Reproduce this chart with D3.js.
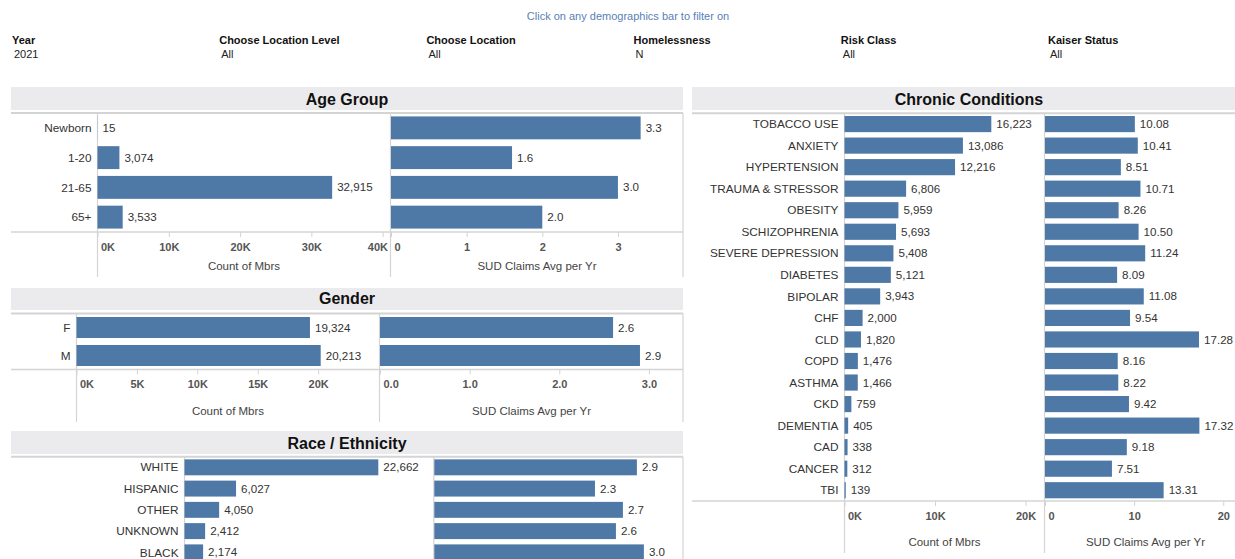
<!DOCTYPE html>
<html>
<head>
<meta charset="utf-8">
<script src="https://cdn.jsdelivr.net/npm/d3@7"></script>
<style>
  html, body { margin: 0; padding: 0; background: #fff; overflow: hidden; }
  svg { display: block; font-family: "Liberation Sans", Arial, sans-serif; }
</style>
</head>
<body>
<svg id="dash" width="1235" height="559"></svg>
<script>
// ---- Filter strip ----
const filterLabels = ["Year", "Choose Location Level", "Choose Location", "Homelessness", "Risk Class", "Kaiser Status"];
const filterValues = ["2021", "All", "All", "N", "All", "All"];

// ---- Age group ----
const ageGroups = ["Newborn", "1-20", "21-65", "65+"];
const ageMembers = [15, 3074, 32915, 3533];
const ageSud = [3.3, 1.6, 3.0, 2.0];

// ---- Gender ----
const genders = ["F", "M"];
const genderMembers = [19324, 20213];
const genderSud = [2.6, 2.9];

// ---- Race / Ethnicity ----
const races = ["WHITE", "HISPANIC", "OTHER", "UNKNOWN", "BLACK"];
const raceMembers = [22662, 6027, 4050, 2412, 2174];
const raceSud = [2.9, 2.3, 2.7, 2.6, 3.0];

// ---- Chronic conditions ----
const conditions = ["TOBACCO USE", "ANXIETY", "HYPERTENSION", "TRAUMA & STRESSOR", "OBESITY", "SCHIZOPHRENIA",
  "SEVERE DEPRESSION", "DIABETES", "BIPOLAR", "CHF", "CLD", "COPD", "ASTHMA", "CKD", "DEMENTIA", "CAD", "CANCER", "TBI"];
const conditionMembers = [16223, 13086, 12216, 6806, 5959, 5693, 5408, 5121, 3943, 2000, 1820, 1476, 1466, 759, 405, 338, 312, 139];
const conditionSud = [10.08, 10.41, 8.51, 10.71, 8.26, 10.50, 11.24, 8.09, 11.08, 9.54, 17.28, 8.16, 8.22, 9.42, 17.32, 9.18, 7.51, 13.31];

// ---- Axis ticks ----
const ageCountTicks = [0, 10000, 20000, 30000, 40000];
const ageSudTicks = [0, 1, 2, 3];
const genderCountTicks = [0, 5000, 10000, 15000, 20000];
const genderSudTicks = [0, 1, 2, 3];
const conditionCountTicks = [0, 10000, 20000];
const conditionSudTicks = [0, 10, 20];

const BAR = "#4e79a7";
const RULE = "#d4d4d4";
const BAND = "#ebebee";
const INK = "#333";

const svg = d3.select("#dash");

const fmtK = d => d3.format(",")(d / 1000) + "K";
const fmtCount = d3.format(",");

// Hint line and filter captions
svg.append("text")
  .attr("x", 628).attr("y", 20)
  .attr("text-anchor", "middle")
  .attr("font-size", 11).attr("fill", "#5a80b8")
  .text("Click on any demographics bar to filter on");

const fx = d3.scaleLinear().domain([0, filterLabels.length - 1]).range([12, 1048]);
const filters = svg.append("g").selectAll("g").data(filterLabels).join("g")
  .attr("transform", (d, i) => `translate(${fx(i)},0)`);
filters.append("text").attr("y", 44).attr("font-size", 11).attr("font-weight", "bold").attr("fill", "#111").text(d => d);
filters.append("text").attr("x", 2).attr("y", 58).attr("font-size", 11).attr("fill", "#222").text((d, i) => filterValues[i]);

function drawPanel(p) {
  const g = svg.append("g");

  // header band and title
  g.append("rect")
    .attr("x", p.hx0).attr("y", p.hy0)
    .attr("width", p.hx1 - p.hx0).attr("height", p.hy1 - p.hy0)
    .attr("fill", BAND);
  g.append("text")
    .attr("x", (p.hx0 + p.hx1) / 2).attr("y", p.titleY)
    .attr("text-anchor", "middle").attr("font-size", 16).attr("font-weight", "bold").attr("fill", "#111")
    .text(p.title);

  const y = d3.scaleBand().domain(p.cats).range([p.top, p.bottom]).paddingInner(p.pad).paddingOuter(p.pad / 2);
  const xL = d3.scaleLinear().domain(p.ldom).range([p.x1, p.x2]);
  const xR = d3.scaleLinear().domain(p.rdom).range([p.x2 + 0.5, p.x3]);

  // rules
  const rules = g.append("g").attr("stroke", RULE).attr("fill", "none");
  rules.append("line").attr("x1", p.hx0).attr("x2", p.x3).attr("y1", p.top).attr("y2", p.top).attr("stroke-width", 2);
  rules.append("line").attr("x1", p.hx0).attr("x2", p.x3).attr("y1", p.bottom).attr("y2", p.bottom).attr("stroke-width", 1.5);
  [p.x1, p.x2, p.x3].forEach(x => {
    rules.append("line").attr("x1", x).attr("x2", x).attr("y1", p.top).attr("y2", p.axisEnd).attr("stroke-width", 1.2);
  });

  // category labels
  g.append("g").selectAll("text").data(p.cats).join("text")
    .attr("x", p.x1 - 6)
    .attr("y", d => y(d) + y.bandwidth() / 2)
    .attr("dy", "0.35em")
    .attr("text-anchor", "end")
    .attr("font-size", 11.8).attr("fill", INK)
    .text(d => d);

  // bars + value labels for both measures
  const sides = [
    { x: xL, vals: p.lvals, fmt: p.lfmt },
    { x: xR, vals: p.rvals, fmt: p.rfmt }
  ];
  sides.forEach(s => {
    const rows = p.cats.map((c, i) => ({ c, v: s.vals[i] }));
    g.append("g").selectAll("rect").data(rows).join("rect")
      .attr("x", s.x(0))
      .attr("y", d => y(d.c))
      .attr("width", d => s.x(d.v) - s.x(0))
      .attr("height", y.bandwidth())
      .attr("fill", BAR);
    g.append("g").selectAll("text").data(rows).join("text")
      .attr("x", d => s.x(d.v) + 5)
      .attr("y", d => y(d.c) + y.bandwidth() / 2)
      .attr("dy", "0.35em")
      .attr("font-size", 11.6).attr("fill", INK)
      .text(d => s.fmt(d.v));
  });

  // axes
  const axes = [
    { x: xL, ticks: p.lticks, tfmt: p.ltfmt, title: "Count of Mbrs" },
    { x: xR, ticks: p.rticks, tfmt: p.rtfmt, title: "SUD Claims Avg per Yr" }
  ];
  axes.forEach(a => {
    if (!a.ticks) return;
    const [r0, r1] = a.x.range();
    const ax = g.append("g")
      .attr("transform", `translate(0,${p.bottom})`)
      .call(d3.axisBottom(a.x).tickValues(a.ticks).tickFormat(a.tfmt).tickSize(5).tickPadding(6));
    ax.select(".domain").remove();
    ax.selectAll(".tick line").attr("stroke", RULE);
    ax.selectAll(".tick text")
      .attr("font-size", 11).attr("font-weight", "bold").attr("fill", "#555")
      .attr("font-family", "\"Liberation Sans\", Arial, sans-serif")
      .each(function (d) {
        const w = this.getComputedTextLength();
        const cx = a.x(d);
        let shift = 0;
        if (cx - w / 2 < r0 + 3) shift = (r0 + 3) - (cx - w / 2);
        if (cx + w / 2 > r1 - 3) shift = (r1 - 3) - (cx + w / 2);
        d3.select(this).attr("x", shift);
      });
    g.append("text")
      .attr("x", (r0 + r1) / 2)
      .attr("y", p.bottom + p.titleDy)
      .attr("text-anchor", "middle")
      .attr("font-size", 11.5).attr("fill", "#444")
      .text(a.title);
  });
}

const fmt1 = d3.format(".1f");
const fmt2 = d3.format(".2f");

drawPanel({
  title: "Age Group", hx0: 11, hx1: 683, hy0: 87, hy1: 110, titleY: 104.5,
  cats: ageGroups, lvals: ageMembers, rvals: ageSud,
  top: 113, bottom: 232, pad: 0.23,
  x1: 97.5, x2: 390.5, x3: 683,
  ldom: [0, 41100], rdom: [0, 3.86],
  lfmt: fmtCount, rfmt: fmt1,
  lticks: ageCountTicks, rticks: ageSudTicks, ltfmt: fmtK, rtfmt: d3.format("d"),
  axisEnd: 277, titleDy: 38
});

drawPanel({
  title: "Gender", hx0: 11, hx1: 683, hy0: 288, hy1: 310, titleY: 303.5,
  cats: genders, lvals: genderMembers, rvals: genderSud,
  top: 313.5, bottom: 369.5, pad: 0.25,
  x1: 76.5, x2: 379.5, x3: 683,
  ldom: [0, 25080], rdom: [0, 3.38],
  lfmt: fmtCount, rfmt: fmt1,
  lticks: genderCountTicks, rticks: genderSudTicks, ltfmt: fmtK, rtfmt: d3.format(".1f"),
  axisEnd: 422, titleDy: 45
});

drawPanel({
  title: "Race / Ethnicity", hx0: 11, hx1: 683, hy0: 431, hy1: 454, titleY: 448.5,
  cats: races, lvals: raceMembers, rvals: raceSud,
  top: 456.7, bottom: 563, pad: 0.25,
  x1: 184.5, x2: 433.8, x3: 683,
  ldom: [0, 29150], rdom: [0, 3.56],
  lfmt: fmtCount, rfmt: fmt1,
  lticks: null, rticks: null,
  axisEnd: 600, titleDy: 45
});

drawPanel({
  title: "Chronic Conditions", hx0: 692, hx1: 1246, hy0: 87, hy1: 110, titleY: 104.5,
  cats: conditions, lvals: conditionMembers, rvals: conditionSud,
  top: 113.3, bottom: 501, pad: 0.25,
  x1: 844.5, x2: 1044.5, x3: 1246,
  ldom: [0, 22100], rdom: [0, 22.55],
  lfmt: fmtCount, rfmt: fmt2,
  lticks: conditionCountTicks, rticks: conditionSudTicks, ltfmt: fmtK, rtfmt: d3.format("d"),
  axisEnd: 553, titleDy: 45
});
</script>
</body>
</html>
